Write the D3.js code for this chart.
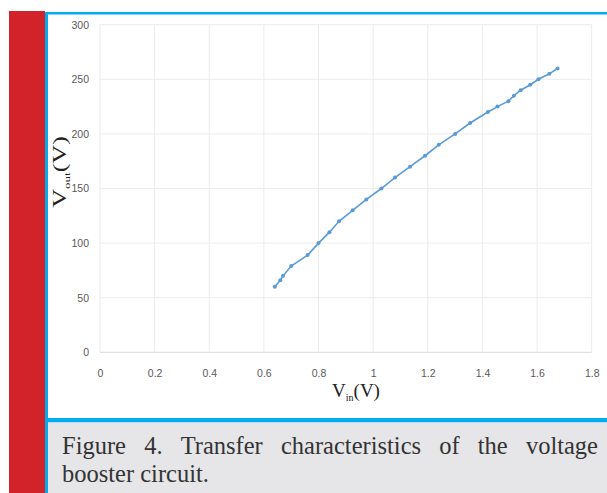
<!DOCTYPE html>
<html>
<head>
<meta charset="utf-8">
<script src="https://cdnjs.cloudflare.com/ajax/libs/d3/7.8.5/d3.min.js"></script>
<style>
  html, body { margin: 0; padding: 0; background: #fff; }
  svg { display: block; }
  .tick text { font-family: "Liberation Sans", Arial, sans-serif; font-size: 10.5px; fill: #595959; }
</style>
</head>
<body>
<svg id="chart" width="607" height="493"></svg>
<script>

// values
var vin  = [0.64, 0.66, 0.67, 0.70, 0.76, 0.80, 0.84, 0.875, 0.925, 0.975, 1.03, 1.08, 1.135,
            1.19, 1.24, 1.30, 1.355, 1.42, 1.455, 1.495, 1.515, 1.54, 1.575, 1.605, 1.645, 1.675];
var vout = [60, 66, 70, 79, 89, 100, 110, 120, 130, 140, 150, 160, 170,
            180, 190, 200, 210, 220, 225, 230, 235, 240, 245, 250, 255, 260];
var xTicks = [0, 0.2, 0.4, 0.6, 0.8, 1, 1.2, 1.4, 1.6, 1.8];
var yTicks = [0, 50, 100, 150, 200, 250, 300];
var captionLine1 = "Figure 4. Transfer characteristics of the voltage";
var captionLine2 = "booster circuit.";

var svg = d3.select('#chart');

// page frame: red strip, blue rules, grey caption box
svg.append('rect').attr('x', 9).attr('y', 11).attr('width', 36).attr('height', 482).attr('fill', '#d2232a');
svg.append('rect').attr('x', 45).attr('y', 12).attr('width', 562).attr('height', 2.5).attr('fill', '#00aeef');
svg.append('rect').attr('x', 45).attr('y', 12).attr('width', 3).attr('height', 481).attr('fill', '#00aeef');
svg.append('rect').attr('x', 48).attr('y', 418).attr('width', 559).attr('height', 4.5).attr('fill', '#00aeef');
svg.append('rect').attr('x', 48).attr('y', 422.5).attr('width', 559).attr('height', 71).attr('fill', '#e6e6e8');

var x = d3.scaleLinear().domain([0, 1.8]).range([100, 591.7]);
var y = d3.scaleLinear().domain([0, 300]).range([352.3, 24.7]);

// gridlines
svg.append('g')
    .selectAll('line').data(yTicks).join('line')
    .attr('x1', x(0)).attr('x2', x(1.8))
    .attr('y1', d => y(d)).attr('y2', d => y(d))
    .attr('stroke', d => d === 0 ? '#d9d9d9' : '#ececec').attr('stroke-width', 1);
svg.append('g')
    .selectAll('line').data(xTicks).join('line')
    .attr('x1', d => x(d)).attr('x2', d => x(d))
    .attr('y1', y(0)).attr('y2', y(300))
    .attr('stroke', '#ececec').attr('stroke-width', 1);

// axes (labels only)
var xAxis = svg.append('g')
    .attr('transform', 'translate(0,' + y(0) + ')')
    .call(d3.axisBottom(x).tickValues(xTicks).tickSize(0).tickPadding(17).tickFormat(d3.format('~g')));
xAxis.select('.domain').remove();

var yAxis = svg.append('g')
    .attr('transform', 'translate(' + x(0) + ',0)')
    .call(d3.axisLeft(y).tickValues(yTicks).tickSize(0).tickPadding(11));
yAxis.select('.domain').remove();

// series
var pts = vin.map((v, i) => [v, vout[i]]);
svg.append('path')
    .datum(pts)
    .attr('fill', 'none')
    .attr('stroke', '#5b9bd5')
    .attr('stroke-width', 1.6)
    .attr('d', d3.line().x(d => x(d[0])).y(d => y(d[1])));
svg.append('g')
    .selectAll('circle').data(pts).join('circle')
    .attr('cx', d => x(d[0])).attr('cy', d => y(d[1]))
    .attr('r', 2).attr('fill', '#5b9bd5');

// axis titles
var serif = '"Liberation Serif", "Times New Roman", serif';
var xt = svg.append('text')
    .attr('x', 356).attr('y', 397)
    .attr('text-anchor', 'middle')
    .attr('font-family', serif).attr('font-size', 19).attr('fill', '#222');
xt.append('tspan').text('V');
xt.append('tspan').attr('font-size', 10).attr('dy', 4).text('in');
xt.append('tspan').attr('dy', -4).text('(V)');

// y title is stretched along its length in the original
var yt = svg.append('text')
    .attr('transform', 'translate(66,172) rotate(-90) scale(1.45,1)')
    .attr('text-anchor', 'middle')
    .attr('font-family', serif).attr('font-size', 18).attr('fill', '#222');
yt.append('tspan').text('V');
yt.append('tspan').attr('font-size', 9).attr('dy', 4).text('out');
yt.append('tspan').attr('dy', -4).text('(V)');

// caption, first line justified between the box margins
var capFont = '"Liberation Serif", serif', capSize = 24.5;
var capLeft = 62, capRight = 598;
var words = captionLine1.split(' ');
var wg = svg.append('g').attr('font-family', capFont).attr('font-size', capSize).attr('fill', '#333');
var wt = wg.selectAll('text').data(words).join('text').attr('y', 454).text(d => d);
var widths = wt.nodes().map(n => n.getComputedTextLength());
var gap = (capRight - capLeft - d3.sum(widths)) / (words.length - 1);
var pos = capLeft;
wt.attr('x', (d, i) => { var p = pos; pos += widths[i] + gap; return p; });
svg.append('text')
    .attr('x', capLeft).attr('y', 481.5)
    .attr('font-family', capFont).attr('font-size', capSize).attr('fill', '#333')
    .text(captionLine2);

</script>
</body>
</html>
